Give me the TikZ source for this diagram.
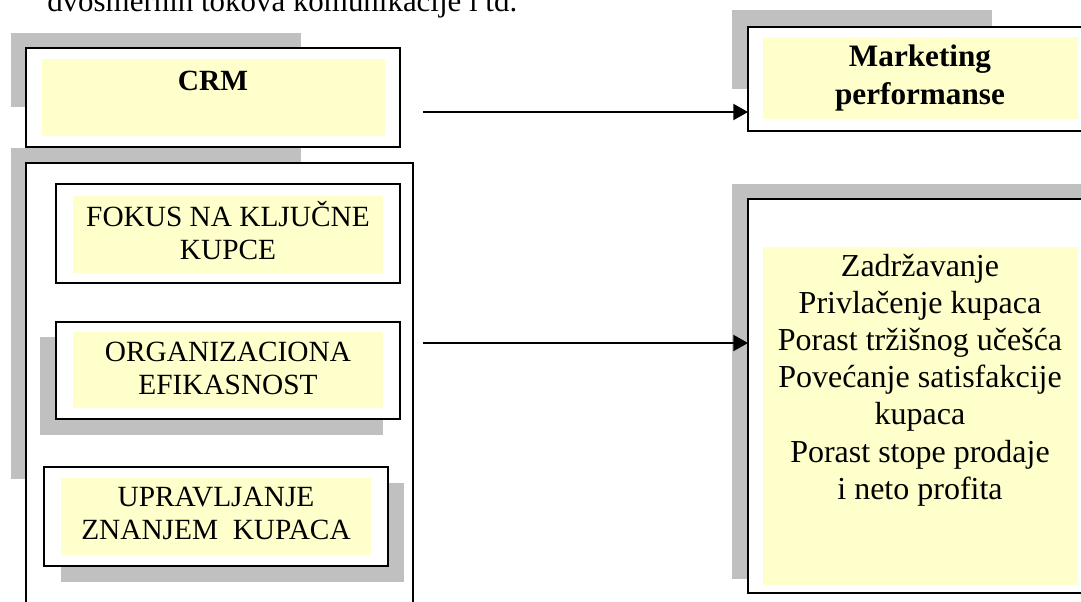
\documentclass[tikz,border=0pt]{standalone}
\usepackage{fontspec}
\setmainfont{Liberation Serif}
\usetikzlibrary{fit,arrows.meta}

\definecolor{shadowgray}{HTML}{C0C0C0}
\definecolor{paleyellow}{HTML}{FFFFCC}

\tikzset{
  shade/.style={fill=shadowgray},
  frame/.style={draw=black, line width=1.5pt, fill=white, inner sep=0pt, outer sep=0pt},
  panel/.style={fill=paleyellow},
  txt/.style={align=center, inner sep=0pt, font=\fontsize{22}{24.75}\selectfont},
  txtwide/.style={align=center, inner sep=0pt, font=\fontsize{24}{27.9}\selectfont},
  conn/.style={line width=1.5pt, -{Triangle[length=11pt,width=12pt]}}
}

\begin{document}
\begin{tikzpicture}[x=0.75pt,y=-0.75pt]
\useasboundingbox (0,0) rectangle (1081,601);
\clip (0,0) rectangle (1081,601);

% running text above the diagram
\node[anchor=base west, inner sep=0pt, font=\fontsize{23.2}{26}\selectfont] (intro) at (47,11.5)
  {dvosmernih tokova komunikacije i td.};

% CRM
\fill[shade] (11,33) rectangle (301,107);
\node[frame, fit={(26,48) (400,147)}] (crm) {};
\fill[panel] (42,59) rectangle (385,136);
\node[txt, anchor=base, font=\bfseries\fontsize{22}{24.75}\selectfont] (crmtext) at (213,90) {CRM};

% CRM components
\fill[shade] (11,148) rectangle (301,479);
\node[frame, fit={(26,163) (413,640)}] (parts) {};

\node[frame, fit={(56,184) (400,283)}] (fokus) {};
\fill[panel] (73,196) rectangle (383,273);
\node[txt] (fokustext) at (228,231) {FOKUS NA KLJUČNE\\KUPCE};

\fill[shade] (40,337) rectangle (383,435);
\node[frame, fit={(56,322) (400,419)}] (org) {};
\fill[panel] (73,332) rectangle (383,408);
\node[txt] (orgtext) at (228,368) {ORGANIZACIONA\\EFIKASNOST};

\fill[shade] (61,483) rectangle (404,582);
\node[frame, fit={(44,467) (388,566)}] (znanje) {};
\fill[panel] (61,478) rectangle (371,555);
\node[txt] (znanjetext) at (216,513) {UPRAVLJANJE\\ZNANJEM\ \ KUPACA};

% Marketing performanse
\fill[shade] (732,10) rectangle (992,89);
\node[frame, fit={(748,27) (1093,131)}] (mkt) {};
\fill[panel] (763,37) rectangle (1078,119);
\node[align=center, inner sep=0pt, font=\bfseries\fontsize{23.4}{28.5}\selectfont] (mkttext) at (920,78)
  {Marketing\\performanse};

% outcomes
\fill[shade] (732,184) rectangle (1093,579);
\node[frame, fit={(748,199) (1093,593)}] (ishod) {};
\fill[panel] (763,247) rectangle (1078,585);
\node[txtwide] (ishodtext) at (920,380)
  {Zadržavanje\\Privlačenje kupaca\\Porast tržišnog učešća\\Povećanje satisfakcije\\kupaca\\Porast stope prodaje\\i neto profita};

% connectors
\coordinate (from1) at (423,112);
\coordinate (from2) at (423,343);
\draw[conn] (from1) -- (mkt.west |- from1);
\draw[conn] (from2) -- (ishod.west |- from2);
\end{tikzpicture}
\end{document}
